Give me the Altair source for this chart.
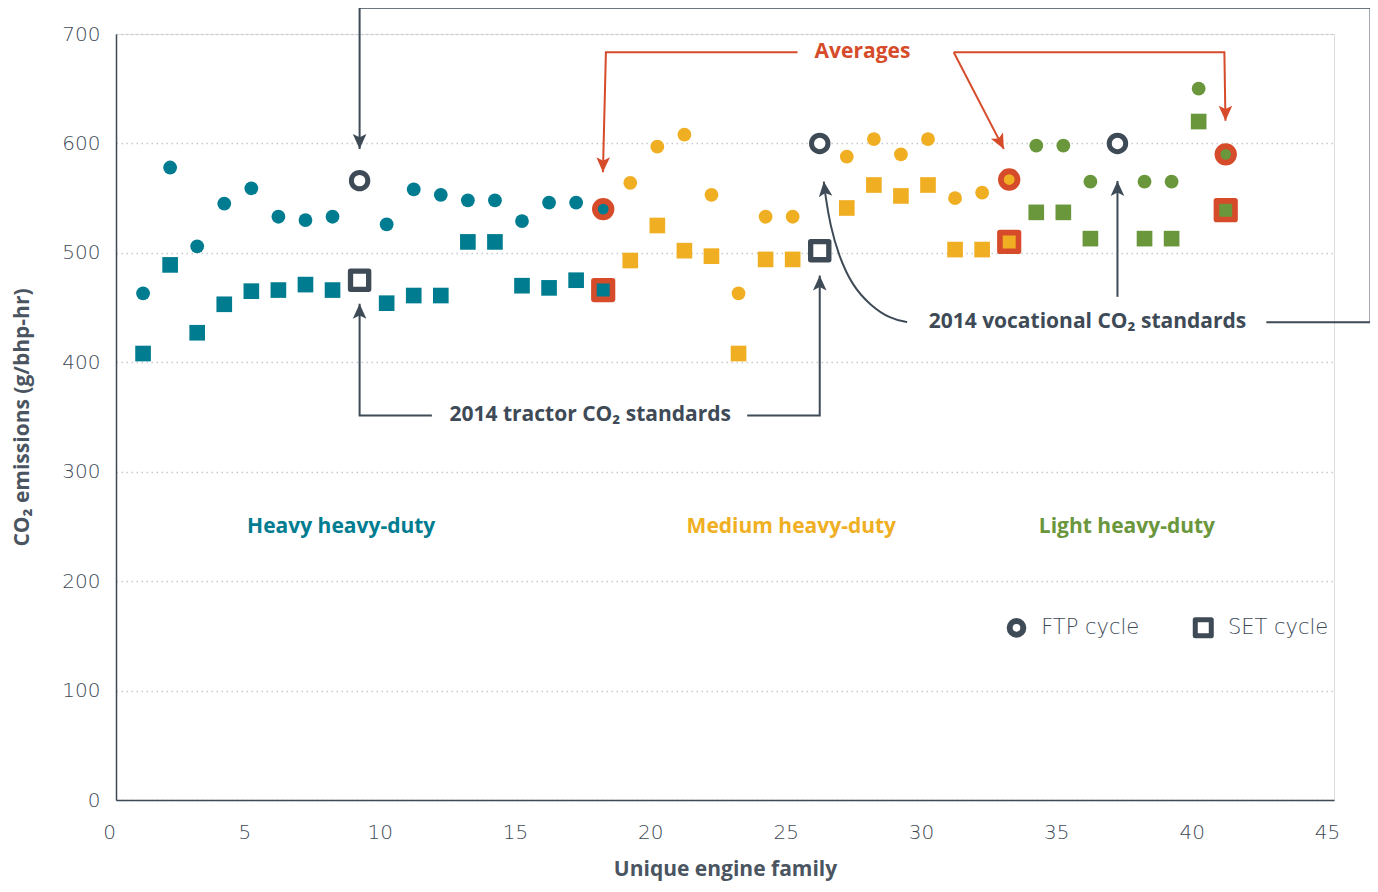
import altair as alt
import pandas as pd

TEAL = "#007C91"
ORANGE = "#F0AF22"
GREEN = "#6A963C"
RED = "#D64B2A"
DARK = "#3E4A56"
GREY = "#4A5561"
FONT = "Open Sans"
TICKFONT = "DejaVu Sans"

# ---- data ----
groups = ["Heavy heavy-duty", "Medium heavy-duty", "Light heavy-duty"]
group_colors = [TEAL, ORANGE, GREEN]

hhd_x = [1, 2, 3, 4, 5, 6, 7, 8, 10, 11, 12, 13, 14, 15, 16, 17]
hhd_ftp = [463, 578, 506, 545, 559, 533, 530, 533, 526, 558, 553, 548, 548, 529, 546, 546]
hhd_set = [408, 489, 427, 453, 465, 466, 471, 466, 454, 461, 461, 510, 510, 470, 468, 475]

mhd_x = [19, 20, 21, 22, 23, 24, 25, 27, 28, 29, 30, 31, 32]
mhd_ftp = [564, 597, 608, 553, 463, 533, 533, 588, 604, 590, 604, 550, 555]
mhd_set = [493, 525, 502, 497, 408, 494, 494, 541, 562, 552, 562, 503, 503]

lhd_x = [34, 35, 36, 38, 39, 40]
lhd_ftp = [598, 598, 565, 565, 565, 650]
lhd_set = [537, 537, 513, 513, 513, 620]

avg_x = [18, 33, 41]
avg_ftp = [540, 567, 590]
avg_set = [466, 510, 539]

tractor_std_x = [9, 26]
tractor_std_y = [475, 502]
vocational_std_x = [9, 26, 37]
vocational_std_y = [566, 600, 600]

x_ticks = [0, 5, 10, 15, 20, 25, 30, 35, 40, 45]
y_ticks = [0, 100, 200, 300, 400, 500, 600, 700]

# annotation paths (data coordinates)
path_tractor_left = [(11.67, 351.4), (9, 351.4), (9, 453.4)]
path_tractor_right = [(23.32, 351.4), (26, 351.4), (26, 479.3)]
path_voc_bracket = [(42.5, 436.7), (46.35, 436.7), (46.35, 724.0), (9, 724.0), (9, 595)]
path_voc_37 = [(37, 459.8), (37, 565.7)]
path_voc_curve = [(29.23, 436.7), (28.61, 439.7), (27.87, 451.9), (27.20, 470.1),
                  (26.70, 497.5), (26.39, 524.9), (26.21, 552.3), (26.15, 565.1)]
path_avg_left = [(25.18, 683.3), (18.1, 683.3), (17.99, 573.7)]
path_avg_diag = [(30.95, 683.3), (32.8, 595)]
path_avg_right = [(30.95, 683.3), (40.95, 683.3), (40.99, 620.8)]

arrow_x = [9, 26, 9, 37, 26.15, 17.99, 32.8, 40.99]
arrow_y = [453.4, 479.3, 595, 565.7, 565.1, 573.7, 595, 620.8]
arrow_angle = [0, 0, 180, 0, 353, 181, 153, 180]
arrow_color = [DARK, DARK, DARK, DARK, DARK, RED, RED, RED]

# ---- tables ----
rows = []
for g, xs, fs, ss in [(groups[0], hhd_x, hhd_ftp, hhd_set),
                      (groups[1], mhd_x, mhd_ftp, mhd_set),
                      (groups[2], lhd_x, lhd_ftp, lhd_set)]:
    for xv, f, s in zip(xs, fs, ss):
        rows.append({"x": xv, "y": f, "group": g, "cycle": "FTP"})
        rows.append({"x": xv, "y": s, "group": g, "cycle": "SET"})
pts = pd.DataFrame(rows)

avg_rows = []
for i, xv in enumerate(avg_x):
    avg_rows.append({"x": xv, "y": avg_ftp[i], "group": groups[i], "cycle": "FTP"})
    avg_rows.append({"x": xv, "y": avg_set[i], "group": groups[i], "cycle": "SET"})
avg_df = pd.DataFrame(avg_rows)

std_ftp = pd.DataFrame({"x": vocational_std_x, "y": vocational_std_y})
std_set = pd.DataFrame({"x": tractor_std_x, "y": tractor_std_y})

path_rows = []
for pid, (pts_list, col) in enumerate([
        (path_tractor_left, DARK), (path_tractor_right, DARK), (path_voc_bracket, DARK),
        (path_voc_37, DARK), (path_avg_left, RED), (path_avg_diag, RED), (path_avg_right, RED)]):
    for k, (px, py) in enumerate(pts_list):
        path_rows.append({"id": pid, "k": k, "x": px, "y": py, "c": col})
paths = pd.DataFrame(path_rows)
curve = pd.DataFrame([{"k": k, "x": px, "y": py} for k, (px, py) in enumerate(path_voc_curve)])

arrows = pd.DataFrame({"x": arrow_x, "y": arrow_y, "angle": arrow_angle, "c": arrow_color})

texts = pd.DataFrame([
    {"x": 8.32, "y": 249.8, "t": "Heavy heavy-duty", "c": TEAL},
    {"x": 24.95, "y": 249.8, "t": "Medium heavy-duty", "c": ORANGE},
    {"x": 37.35, "y": 249.8, "t": "Light heavy-duty", "c": GREEN},
    {"x": 27.58, "y": 683.3, "t": "Averages", "c": RED},
    {"x": 17.52, "y": 351.4, "t": "2014 tractor CO\u2082 standards", "c": DARK},
    {"x": 35.89, "y": 436.7, "t": "2014 vocational CO\u2082 standards", "c": DARK},
])
legend_txt = pd.DataFrame([
    {"x": 34.18, "y": 157.3, "t": "FTP cycle"},
    {"x": 41.08, "y": 157.3, "t": "SET cycle"},
])
legend_circ = pd.DataFrame({"x": [33.27], "y": [157.3]})
legend_sq = pd.DataFrame({"x": [40.17], "y": [157.3]})

# ---- encodings ----
X = alt.X("x:Q", scale=alt.Scale(domain=[0, 45], nice=False, zero=False),
          axis=alt.Axis(values=x_ticks, grid=False, ticks=False, domainColor=DARK, domainWidth=1.5,
                        labelFont=TICKFONT, labelFontSize=20, labelFontWeight=300, labelColor=DARK,
                        labelPadding=22, labelOffset=-7, labelFlush=False,
                        title="Unique engine family", titleFont=FONT, titleFontSize=21,
                        titleFontWeight="bold", titleColor=GREY, titlePadding=16))
Y = alt.Y("y:Q", scale=alt.Scale(domain=[0, 700], nice=False, zero=False),
          axis=alt.Axis(values=y_ticks, grid=True, gridDash=[1.5, 3.5], gridColor="#C5CACE",
                        gridWidth=1.5, ticks=False, domainColor=DARK, domainWidth=1.5,
                        labelFont=TICKFONT, labelFontSize=20, labelFontWeight=300, labelColor=DARK,
                        labelPadding=16, labelFlush=False,
                        title="CO\u2082 emissions (g/bhp-hr)", titleFont=FONT, titleFontSize=21,
                        titleFontWeight="bold", titleColor=GREY, titlePadding=29))
C = alt.Color("group:N", scale=alt.Scale(domain=groups, range=group_colors), legend=None)

base_pts = alt.Chart(pts)
ftp_layer = base_pts.transform_filter("datum.cycle == 'FTP'").mark_point(
    shape="circle", filled=True, size=190, opacity=1).encode(x=X, y=Y, color=C)
set_layer = base_pts.transform_filter("datum.cycle == 'SET'").mark_point(
    shape="square", filled=True, size=245, opacity=1).encode(x=X, y=Y, color=C)

std_c = alt.Chart(std_ftp).mark_point(shape="circle", filled=True, fill="white", stroke=DARK,
                                      strokeWidth=5, size=270, opacity=1).encode(x=X, y=Y)
std_s = alt.Chart(std_set).mark_point(shape="square", filled=True, fill="white", stroke=DARK,
                                      strokeWidth=5.3, size=330, opacity=1,
                                      strokeJoin="round").encode(x=X, y=Y)

avg_c = alt.Chart(avg_df).transform_filter("datum.cycle == 'FTP'").mark_point(
    shape="circle", filled=True, stroke=RED, strokeWidth=5.8, size=275, opacity=1
).encode(x=X, y=Y, fill=alt.Fill("group:N", scale=alt.Scale(domain=groups, range=group_colors), legend=None))
avg_s = alt.Chart(avg_df).transform_filter("datum.cycle == 'SET'").mark_point(
    shape="square", filled=True, stroke=RED, strokeWidth=5.6, size=345, opacity=1, strokeJoin="round"
).encode(x=X, y=Y, fill=alt.Fill("group:N", scale=alt.Scale(domain=groups, range=group_colors), legend=None))

lines = alt.Chart(paths).mark_line(strokeWidth=2).encode(
    x=X, y=Y, detail="id:N", order="k:Q", color=alt.Color("c:N", scale=None))
curve_line = alt.Chart(curve).mark_line(strokeWidth=2, color=DARK, interpolate="basis").encode(
    x=X, y=Y, order="k:Q")

heads = alt.Chart(arrows).mark_point(
    shape="M0,0L-0.5,1.1L0,0.85L0.5,1.1Z", filled=True, size=740, opacity=1, strokeWidth=0
).encode(x=X, y=Y, angle=alt.Angle("angle:Q", scale=None), color=alt.Color("c:N", scale=None))

labels = alt.Chart(texts).mark_text(font=FONT, fontSize=21, fontWeight="bold", baseline="middle",
                                    align="center").encode(
    x=X, y=Y, text="t:N", color=alt.Color("c:N", scale=None))

leg_c = alt.Chart(legend_circ).mark_point(shape="circle", filled=True, fill="white", stroke=DARK,
                                          strokeWidth=6, size=186, opacity=1).encode(x=X, y=Y)
leg_s = alt.Chart(legend_sq).mark_point(shape="square", filled=True, fill="white", stroke=DARK,
                                        strokeWidth=5, size=256, opacity=1,
                                        strokeJoin="round").encode(x=X, y=Y)
leg_t = alt.Chart(legend_txt).mark_text(font=TICKFONT, fontSize=21, fontWeight=300, color=DARK,
                                        baseline="middle", align="left").encode(x=X, y=Y, text="t:N")

chart = alt.layer(
    lines, curve_line, heads,
    ftp_layer, set_layer, std_c, std_s, avg_c, avg_s,
    labels, leg_c, leg_s, leg_t
).properties(
    width=1218, height=766,
    autosize=alt.AutoSizeParams(type="none"),
    padding={"left": 108, "top": 26, "right": 36, "bottom": 84},
).configure_view(stroke=None).configure(background="white")

chart.save("out.html", embed_options={"renderer": "svg", "actions": False})
